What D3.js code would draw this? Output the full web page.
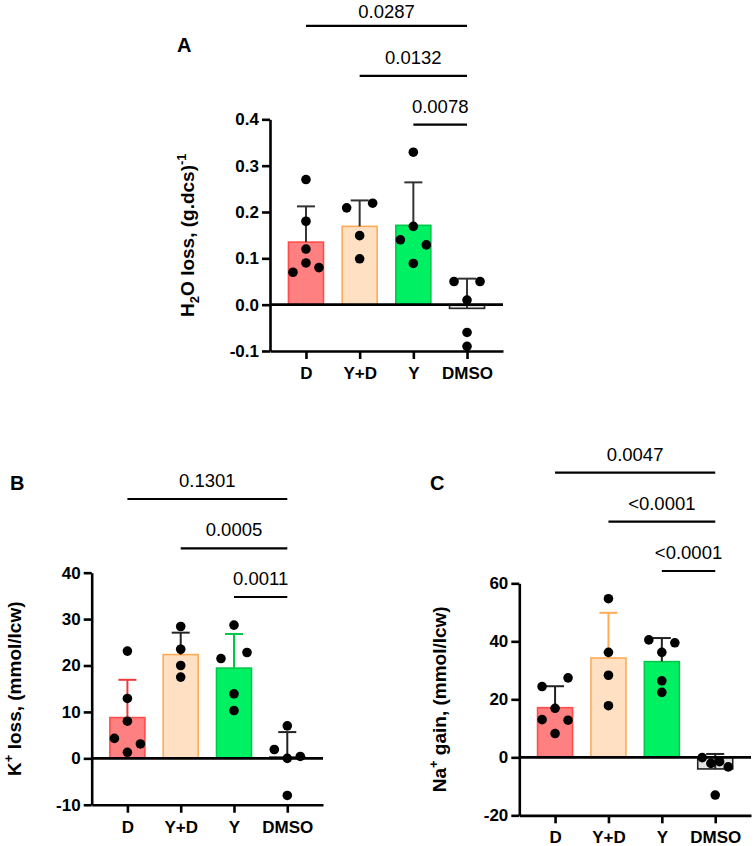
<!DOCTYPE html>
<html><head><meta charset="utf-8">
<script src="https://cdn.jsdelivr.net/npm/d3@7"></script>
<style>body{margin:0;background:#fff}svg{display:block}</style>
</head><body><svg id="c" width="754" height="846"></svg>
<script>
const groups = ["D", "Y+D", "Y", "DMSO"];

// Panel A: H2O loss (individual points, data order)
const h2oD    = [0.27, 0.18, 0.12, 0.07, 0.09, 0.08];
const h2oYD   = [0.209, 0.219, 0.149, 0.099];
const h2oY    = [0.329, 0.169, 0.14, 0.129, 0.089];
const h2oDMSO = [0.05, 0.05, 0.01, -0.06, -0.09];
const ticksA = [-0.1, 0, 0.1, 0.2, 0.3, 0.4];
const tickLabelsA = ["-0.1", "0.0", "0.1", "0.2", "0.3", "0.4"];
const sigFromA = ["D", "Y+D", "Y"];
const sigLabelsA = ["0.0287", "0.0132", "0.0078"];
const sigLevelsA = [0.6015, 0.494, 0.3885];

// Panel B: K+ loss
const kD    = [23.1, 12.9, 8.0, 4.3, 1.3, 3.1];
const kYD   = [28.4, 23.5, 20.0, 17.5];
const kY    = [28.7, 21.5, 22.8, 13.9, 10.3];
const kDMSO = [7.0, 1.9, 0.0, 0.4, -8.0];
const ticksB = [-10, 0, 10, 20, 30, 40];
const tickLabelsB = ["-10", "0", "10", "20", "30", "40"];
const sigFromB = ["D", "Y+D", "Y"];
const sigLabelsB = ["0.1301", "0.0005", "0.0011"];
const sigLevelsB = [55.87, 45.25, 34.76];

// Panel C: Na+ gain
const naD    = [24.4, 27.4, 16.9, 13.0, 12.8, 8.2];
const naYD   = [54.7, 36.2, 28.3, 17.8];
const naY    = [40.5, 39.5, 36.2, 26.4, 22.4];
const naDMSO = [-0.1, -2.1, -1.5, -3.3, -13.0];
const ticksC = [-20, 0, 20, 40, 60];
const tickLabelsC = ["-20", "0", "20", "40", "60"];
const sigFromC = ["D", "Y+D", "Y"];
const sigLabelsC = ["0.0047", "<0.0001", "<0.0001"];
const sigLevelsC = [98.15, 81.25, 64.25];

// styles
const fills   = ["#ff8080", "#ffe0c2", "#00f064", "#e4e4e4"];
const strokes = ["#ff4d4d", "#ffab55", "#00c94a", "#222222"];
const errColorsA = ["#333", "#333", "#333", "#333"];
const errColorsB = ["#f03a3a", "#222", "#00c94a", "#222"];
const errColorsC = ["#222", "#ffab55", "#222", "#222"];

const FONT = "'Liberation Sans', Arial, Helvetica, sans-serif";
const svg = d3.select("#c");
svg.append("rect").attr("width", 754).attr("height", 846).attr("fill", "#fff");

const panels = [
  { name: "A", series: [h2oD, h2oYD, h2oY, h2oDMSO], ticks: ticksA, tickLabels: tickLabelsA,
    sigFrom: sigFromA, sigLabels: sigLabelsA, sigLevels: sigLevelsA, errColors: errColorsA,
    title: [["H", 0], ["2", 1], ["O loss, (g.dcs)", 0], ["-1", -1]],
    x0: 270, x1: 503, yTop: 119.33, yBot: 351, titleX: 194, labelX: 177, labelY: 52 },
  { name: "B", series: [kD, kYD, kY, kDMSO], ticks: ticksB, tickLabels: tickLabelsB,
    sigFrom: sigFromB, sigLabels: sigLabelsB, sigLevels: sigLevelsB, errColors: errColorsB,
    title: [["K", 0], ["+", -1], [" loss, (mmol/lcw)", 0]],
    x0: 91.7, x1: 323, yTop: 572.67, yBot: 804.75, titleX: 20.5, labelX: 10, labelY: 490 },
  { name: "C", series: [naD, naYD, naY, naDMSO], ticks: ticksC, tickLabels: tickLabelsC,
    sigFrom: sigFromC, sigLabels: sigLabelsC, sigLevels: sigLevelsC, errColors: errColorsC,
    title: [["Na", 0], ["+", -1], [" gain, (mmol/lcw)", 0]],
    x0: 519.3, x1: 751, yTop: 583.33, yBot: 815.33, titleX: 445.5, labelX: 430, labelY: 490 }
];

// simple row-based scatter spreading (points close in y share a row and spread symmetrically)
function swarm(values, y, thresh, spread) {
  const items = values.map((v, i) => ({ v, i, py: y(v) }));
  const sorted = items.slice().sort((a, b) => a.py - b.py);
  const rows = [];
  sorted.forEach(it => {
    const r = rows[rows.length - 1];
    if (r && it.py - r[r.length - 1].py < thresh) r.push(it); else rows.push([it]);
  });
  rows.forEach(r => {
    r.sort((a, b) => a.i - b.i);
    const n = r.length;
    r.forEach((it, k) => { it.dx = n === 1 ? 0 : -spread + k * (2 * spread / (n - 1)); });
  });
  return items;
}

panels.forEach(P => {
  const g = svg.append("g");
  const dom = d3.extent(P.ticks);
  const y = d3.scaleLinear().domain(dom).range([P.yBot, P.yTop]);
  const x = d3.scalePoint().domain(groups).range([P.x0, P.x1]).padding(0.67);
  const bw = 35;

  const stats = P.series.map((s, i) => ({
    g: groups[i], i, mean: d3.mean(s), sd: d3.deviation(s), vals: s
  }));

  // bars
  g.selectAll("rect.bar").data(stats).join("rect")
    .attr("x", d => x(d.g) - bw / 2)
    .attr("width", bw)
    .attr("y", d => Math.min(y(d.mean), y(0)))
    .attr("height", d => Math.abs(y(d.mean) - y(0)))
    .attr("fill", d => fills[d.i])
    .attr("stroke", d => strokes[d.i])
    .attr("stroke-width", 1.6);

  // error bars (upper SD)
  const eb = g.selectAll("g.err").data(stats).join("g")
    .attr("stroke", d => P.errColors[d.i]).attr("stroke-width", 2);
  eb.append("line")
    .attr("x1", d => x(d.g)).attr("x2", d => x(d.g))
    .attr("y1", d => y(d.mean)).attr("y2", d => y(d.mean + d.sd));
  eb.append("line")
    .attr("x1", d => x(d.g) - 9).attr("x2", d => x(d.g) + 9)
    .attr("y1", d => y(d.mean + d.sd)).attr("y2", d => y(d.mean + d.sd));

  // axes
  const yAxis = g.append("g").attr("transform", `translate(${P.x0},0)`)
    .call(d3.axisLeft(y).tickValues(P.ticks).tickFormat((d, i) => P.tickLabels[i])
      .tickSize(8).tickSizeOuter(0).tickPadding(3));
  const xAxis = g.append("g").attr("transform", `translate(0,${P.yBot})`)
    .call(d3.axisBottom(x).tickSize(8).tickSizeOuter(0).tickPadding(8));
  [yAxis, xAxis].forEach(a => {
    a.selectAll("path,line").attr("stroke", "#000").attr("stroke-width", 2.6);
    a.selectAll("text").attr("font-family", FONT).attr("font-size", 17)
      .attr("font-weight", "bold").attr("fill", "#000");
    a.attr("font-family", null).attr("font-size", null);
  });
  // zero line
  g.append("line").attr("x1", P.x0).attr("x2", P.x1)
    .attr("y1", y(0)).attr("y2", y(0))
    .attr("stroke", "#000").attr("stroke-width", 2.6);

  // points
  stats.forEach(s => {
    const pts = swarm(s.vals, y, 9.1, 13);
    g.selectAll(null).data(pts).join("circle")
      .attr("cx", d => x(s.g) + d.dx)
      .attr("cy", d => d.py)
      .attr("r", 4.8)
      .attr("fill", "#000");
  });

  // significance brackets
  P.sigFrom.forEach((from, k) => {
    const yy = y(P.sigLevels[k]);
    const xa = x(from), xb = x("DMSO");
    g.append("line").attr("x1", xa).attr("x2", xb).attr("y1", yy).attr("y2", yy)
      .attr("stroke", "#000").attr("stroke-width", 2.2);
    g.append("text").attr("x", (xa + xb) / 2).attr("y", Math.max(yy - 12, 17.5))
      .attr("text-anchor", "middle").attr("font-family", FONT).attr("font-size", 18.5)
      .attr("fill", "#000").text(P.sigLabels[k]);
  });

  // y title
  const cy = (P.yTop + P.yBot) / 2;
  const t = g.append("text")
    .attr("transform", `translate(${P.titleX},${cy}) rotate(-90)`)
    .attr("text-anchor", "middle").attr("font-family", FONT).attr("font-size", 19)
    .attr("font-weight", "bold").attr("fill", "#000");
  let shift = 0;
  P.title.forEach(([txt, pos]) => {
    const target = pos === 1 ? 5 : pos === -1 ? -8 : 0;
    t.append("tspan").attr("dy", target - shift)
      .attr("font-size", pos === 0 ? 19 : 13).text(txt);
    shift = target;
  });

  // panel label
  g.append("text").attr("x", P.labelX).attr("y", P.labelY)
    .attr("font-family", FONT).attr("font-size", 20).attr("font-weight", "bold")
    .attr("fill", "#000").text(P.name);
});
</script></body></html>
